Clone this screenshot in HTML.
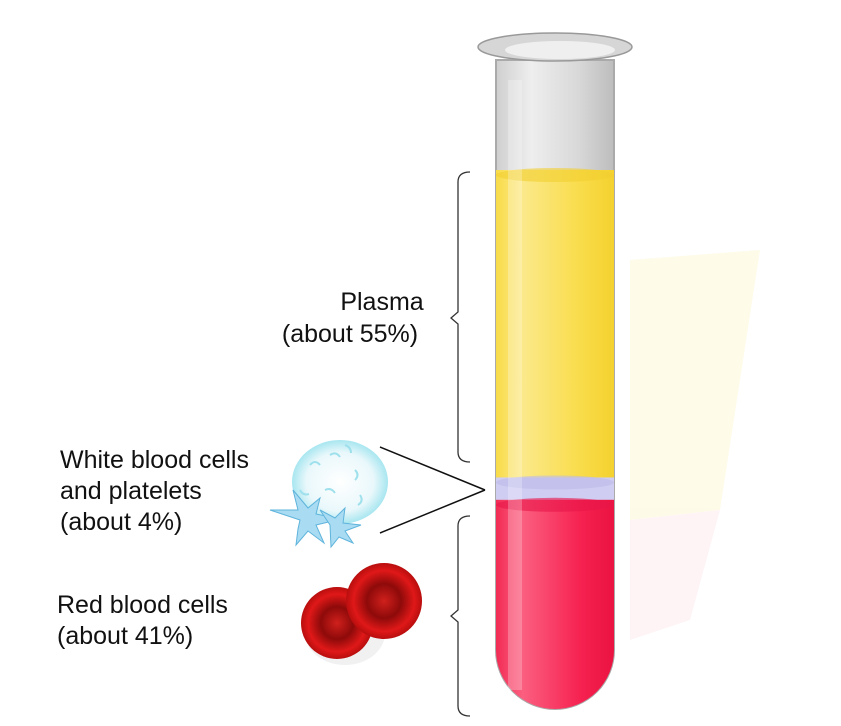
<!DOCTYPE html>
<html><head><meta charset="utf-8"><style>
body{margin:0;background:#fff;width:841px;height:726px;overflow:hidden}
svg{display:block}
text{font-family:"Liberation Sans",sans-serif;font-size:25px;fill:#111}
</style></head><body>
<svg id="chart" width="841" height="726" viewBox="0 0 841 726">
<defs>
<linearGradient id="glass" x1="0" x2="1"><stop offset="0" stop-color="#cfcfcf"/><stop offset="0.3" stop-color="#eee"/><stop offset="0.7" stop-color="#d8d8d8"/><stop offset="1" stop-color="#bdbdbd"/></linearGradient>
<linearGradient id="yel" x1="0" x2="1"><stop offset="0" stop-color="#f8d838"/><stop offset="0.25" stop-color="#fbe98a"/><stop offset="0.7" stop-color="#f9dc4a"/><stop offset="1" stop-color="#f3cf2a"/></linearGradient>
<linearGradient id="red" x1="0" x2="1"><stop offset="0" stop-color="#f0204a"/><stop offset="0.25" stop-color="#fb5f80"/><stop offset="0.7" stop-color="#f62150"/><stop offset="1" stop-color="#e8103e"/></linearGradient>
<radialGradient id="rbc"><stop offset="0" stop-color="#d0201c"/><stop offset="0.45" stop-color="#8e0a0a"/><stop offset="0.8" stop-color="#e01818"/><stop offset="1" stop-color="#b80e0e"/></radialGradient>
<radialGradient id="wbc"><stop offset="0" stop-color="#fff"/><stop offset="0.7" stop-color="#eaf8fb"/><stop offset="1" stop-color="#a8e6f0"/></radialGradient>
<clipPath id="tubeclip"><path d="M496 60 V650 A59 59 0 0 0 614 650 V60 Z"/></clipPath>
</defs>
<g opacity="0.35">
<polygon points="630,260 760,250 720,510 630,520" fill="#fdf3c0"/>
<polygon points="630,520 720,510 690,620 630,640" fill="#fde0e6"/>
</g>
<path d="M496 60 V650 A59 59 0 0 0 614 650 V60 Z" fill="url(#glass)" stroke="#aaa" stroke-width="2"/>
<g id="layers" clip-path="url(#tubeclip)"></g>
<rect x="508" y="80" width="14" height="610" fill="#fff" opacity="0.25"/>
<ellipse cx="555" cy="47" rx="77" ry="14" fill="#d6d6d6" stroke="#999" stroke-width="1.5"/>
<ellipse cx="560" cy="50" rx="55" ry="9" fill="#efefef"/>
<g fill="none" stroke="#333" stroke-width="1.3">
<path d="M470 172 Q458 172 458 182 V312 L451 318 L458 324 V452 Q458 462 470 462"/>
</g>
<g fill="none" stroke="#333" stroke-width="1.3">
<path d="M470 516 Q458 516 458 526 V610 L451 616 L458 622 V706 Q458 716 470 716"/>
</g>
<g stroke="#111" stroke-width="1.5">
<line x1="380" y1="447" x2="485" y2="490"/><line x1="380" y1="533" x2="485" y2="490"/>
</g>
<text x="382" y="310" text-anchor="middle">Plasma</text>
<text x="350" y="342" text-anchor="middle" id="plasmaPct"></text>
<text x="60" y="468">White blood cells</text>
<text x="60" y="499">and platelets</text>
<text x="60" y="530" id="wbcPct"></text>
<text x="57" y="613">Red blood cells</text>
<text x="57" y="644" id="rbcPct"></text>
<g>
<ellipse cx="340" cy="482" rx="48" ry="42" fill="url(#wbc)"/>
<g stroke="#9ee0ec" stroke-width="2" fill="none">
<path d="M310 465 q5 -6 10 0"/><path d="M330 455 q6 -4 10 2"/><path d="M355 470 q5 5 0 10"/><path d="M325 490 q6 -3 10 3"/><path d="M360 495 q4 6 -2 10"/><path d="M300 490 q3 6 9 4"/><path d="M345 445 q6 2 6 8"/>
</g>
<g fill="#a9dcf2" stroke="#5fb4dc" stroke-width="1">
<path d="M300 520 l-30 -10 l28 0 l-5 -20 l15 18 l12 -10 l-4 16 l25 5 l-25 6 l8 18 l-16 -12 l-12 14 l2 -16 z"/>
<path d="M330 525 l-10 -15 l15 8 l10 -10 l-2 15 l18 2 l-16 6 l8 12 l-14 -6 l-8 10 z"/>
</g>
</g>
<g>
<ellipse cx="345" cy="633" rx="40" ry="32" fill="#ddd" opacity="0.4"/>
<circle cx="337" cy="623" r="36" fill="url(#rbc)"/>
<circle cx="384" cy="601" r="38" fill="url(#rbc)"/>
</g>
<script>
const layerNames=["plasma","white-cells-platelets","red-cells"];
const layerPercents=[55,4,41];
const layerFills=["url(#yel)","#cfcdf2","url(#red)"];
const top0=170, bottom0=729, H=bottom0-top0;
const g=document.getElementById('layers');
const ns="http://www.w3.org/2000/svg";
let y=top0;
layerPercents.forEach((p,i)=>{
  const h=p/100*H;
  const r=document.createElementNS(ns,'rect');
  
  
  r.setAttribute('x',490);r.setAttribute('y',y);r.setAttribute('width',130);r.setAttribute('height',h+1);
  r.setAttribute('fill',layerFills[i]);
  g.appendChild(r);
  const e=document.createElementNS(ns,'ellipse');
  
  
  e.setAttribute('cx',555);e.setAttribute('cy',y+5);e.setAttribute('rx',59);e.setAttribute('ry',7);
  e.setAttribute('fill',i===0?'#f2cf30':i===2?'#e8164a':'#bdbbe8');e.setAttribute('opacity',0.6);
  g.appendChild(e);
  y+=h;
});
document.getElementById('plasmaPct').textContent='(about '+layerPercents[0]+'%)';
document.getElementById('wbcPct').textContent='(about '+layerPercents[1]+'%)';
document.getElementById('rbcPct').textContent='(about '+layerPercents[2]+'%)';
</script>
</svg>
</body></html>
